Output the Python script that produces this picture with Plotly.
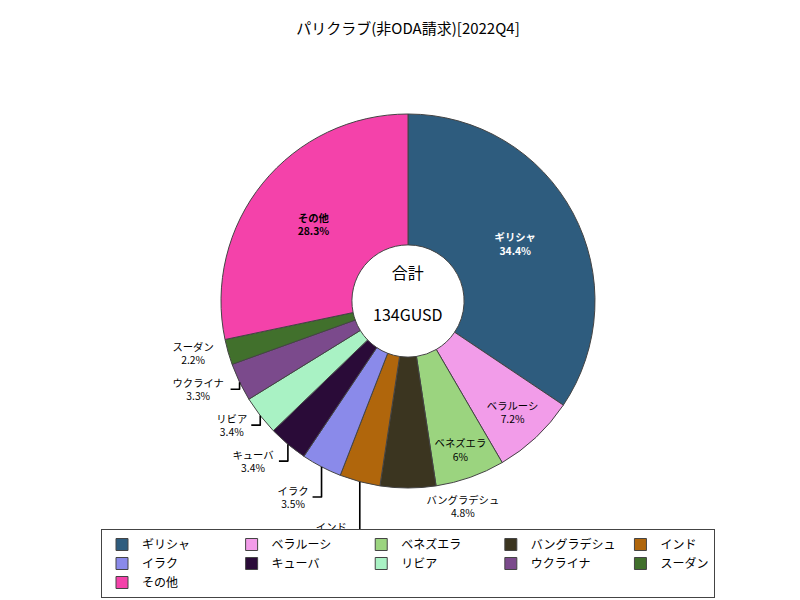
import plotly.graph_objects as go

labels = ["ギリシャ", "ベラルーシ", "ベネズエラ", "バングラデシュ", "インド", "イラク",
          "キューバ", "リビア", "ウクライナ", "スーダン", "その他"]
values = [34.4, 7.2, 6.0, 4.8, 3.5, 3.5, 3.4, 3.4, 3.3, 2.2, 28.3]
colors = ["#2e5c7e", "#f29ce9", "#9bd47f", "#3b3520", "#b0660c", "#8a8aea",
          "#2a0b38", "#a9f2c4", "#7b4a8c", "#41702c", "#f442aa"]

font = "Noto Sans CJK JP"
texts = [f"<b>{l}<br>{v:g}%</b>" if v > 10 else f"{l}<br>{v:g}%" for l, v in zip(labels, values)]
positions = ["inside" if v > 5 else "outside" for v in values]
text_colors = ["white"] + ["black"] * 9 + ["black"]

fig = go.Figure(go.Pie(
    labels=labels, values=values, text=texts, textinfo="text",
    textposition=positions, hole=0.3, sort=False, direction="clockwise",
    rotation=0, marker=dict(colors=colors, line=dict(color="#444", width=1)),
    textfont=dict(color=text_colors, size=13, family=font),
    insidetextorientation="horizontal",
    domain=dict(x=[0.2, 0.8], y=[0.2, 0.88]),
))
fig.update_layout(
    width=800, height=600, paper_bgcolor="white", plot_bgcolor="white",
    font=dict(family=font, size=13, color="black"),
    title=dict(text="パリクラブ(非ODA請求)[2022Q4]", x=0.5, y=0.975, font=dict(size=15)),
    margin=dict(l=60, r=60, t=40, b=10),
    uniformtext=dict(minsize=10, mode="show"),
    legend=dict(orientation="h", x=0.5, xanchor="center", y=0.0, yanchor="bottom",
                bordercolor="#444", borderwidth=1, font=dict(size=12),
                itemwidth=30, entrywidthmode="pixels", entrywidth=0),
    annotations=[dict(text="合計<br><br>134GUSD", x=0.5, y=0.555, xref="paper", yref="paper",
                      showarrow=False, font=dict(size=16))],
)
fig.write_html("out.html")
